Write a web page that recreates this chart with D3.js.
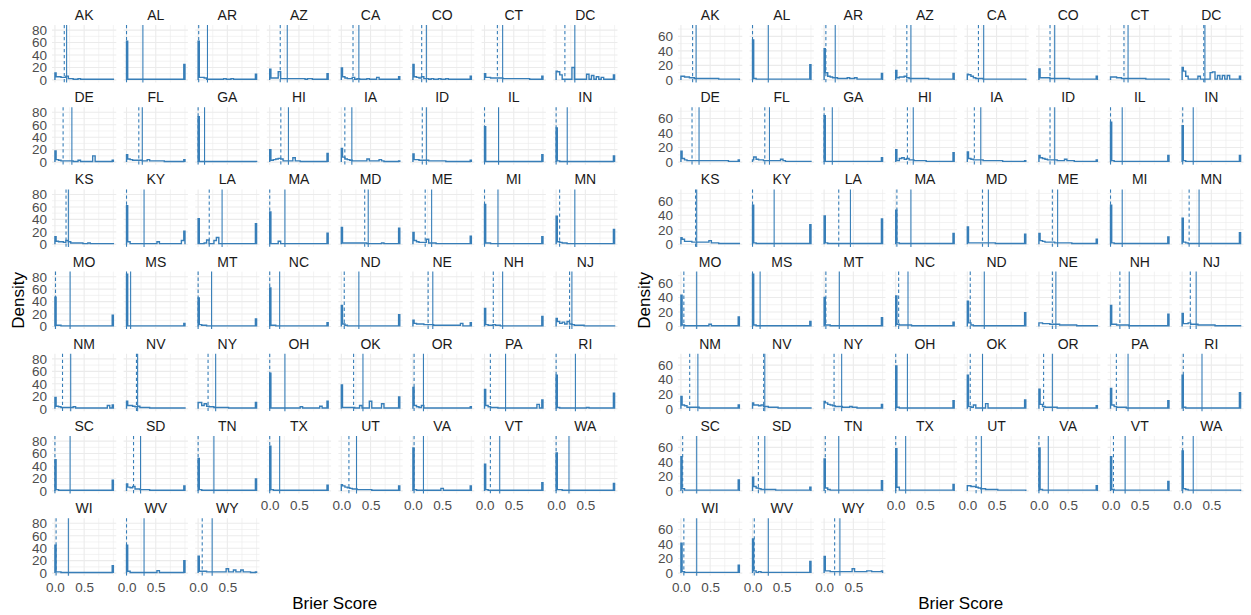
<!DOCTYPE html>
<html lang="en">
<head>
<meta charset="utf-8">
<script src="https://d3js.org/d3.v7.min.js"></script>
<style>
  body { margin: 0; background: #fff; }
  .tick text { fill: #4d4d4d; }
</style>
</head>
<body>
<script>
// States, in facet order
const states = ["AK","AL","AR","AZ","CA","CO","CT","DC","DE","FL","GA","HI","IA","ID","IL","IN",
  "KS","KY","LA","MA","MD","ME","MI","MN","MO","MS","MT","NC","ND","NE","NH","NJ",
  "NM","NV","NY","OH","OK","OR","PA","RI","SC","SD","TN","TX","UT","VA","VT","WA",
  "WI","WV","WY"];

// histogram bin edges: narrow first bin at 0, 24 bins up to 0.98, narrow last bin to 1.0
const binEdges = [0].concat(d3.range(24).map(k => 0.02 + k * 0.96 / 23), [1.0]);

// left chart: dashed and solid reference lines (Brier score)
const dashLeft = [0.16,0,0.01,0.18,0.20,0.15,0.22,0.15,0.14,0.21,0,0.19,0.06,0.16,0,0,
  0.19,0,0.19,0,0.40,0.21,0,0.06,0.01,0,0,0,0.05,0.26,0.15,0.23,
  0.13,0.17,0.17,0,0.21,0.02,0.10,0,0,0.12,0,0,0.13,0.02,0.10,0,
  0.02,0,0.07];
const solidLeft = [0.20,0.28,0.16,0.30,0.30,0.23,0.31,0.32,0.29,0.27,0.11,0.32,0.18,0.23,0.24,0.19,
  0.23,0.30,0.41,0.26,0.46,0.32,0.23,0.32,0.26,0.07,0.23,0.17,0.30,0.34,0.31,0.27,
  0.27,0.19,0.30,0.26,0.37,0.18,0.36,0.33,0.26,0.24,0.27,0.17,0.26,0.18,0.26,0.22,
  0.23,0.30,0.24];

// right chart: dashed and solid reference lines
const dashRight = [0.20,0,0.03,0.19,0.19,0.19,0.23,0.37,0.19,0.21,0,0.20,0.12,0.19,0,0.01,
  0.25,0,0.25,0.02,0.26,0.23,0,0.12,0.05,0,0.03,0.05,0.05,0.23,0.16,0.14,
  0.15,0.19,0.17,0,0.05,0.08,0.10,0.02,0.03,0.10,0.02,0,0.15,0,0.05,0.01,
  0.05,0.03,0.18];
const solidRight = [0.26,0.27,0.19,0.26,0.28,0.27,0.30,0.39,0.31,0.29,0.14,0.30,0.23,0.27,0.20,0.19,
  0.27,0.37,0.45,0.26,0.36,0.32,0.20,0.29,0.27,0.13,0.26,0.21,0.29,0.29,0.32,0.24,
  0.29,0.21,0.30,0.20,0.26,0.23,0.30,0.34,0.27,0.21,0.25,0.17,0.24,0.16,0.25,0.19,
  0.27,0.27,0.27];

// left chart densities per state (25 bins)
const densLeft = [
  [11,5,5,4,4,6,2,2,1,1,2,1,1,1,1,1,1,1,1,1,1,1,1,1,1],
  [62,1,1,1,1,1,1,1,1,1,1,1,1,1,1,1,1,1,1,1,1,1,1,1,25],
  [62,4,4,3,1,1,1,1,1,1,1,2,1,1,2,1,1,1,1,1,1,1,1,1,9],
  [17,3,3,3,13,2,2,2,2,2,2,2,2,2,2,1,2,2,1,1,1,1,1,1,10],
  [19,5,3,2,2,4,1,2,1,1,1,2,1,1,1,4,1,1,1,1,1,1,1,1,5],
  [25,5,4,3,5,2,2,1,2,1,1,2,1,1,2,1,1,1,1,1,1,1,1,1,6],
  [10,4,4,3,3,3,3,3,2,2,2,2,2,2,2,2,2,2,2,1,1,1,1,1,6],
  [14,13,8,1,1,1,1,20,1,1,1,1,1,9,1,7,1,5,1,4,1,1,1,1,8],
  [18,4,3,2,2,2,2,2,1,1,3,1,1,1,1,1,10,1,1,1,1,1,1,1,3],
  [12,5,4,3,3,3,3,2,2,4,2,2,2,2,2,2,1,1,1,1,1,1,1,1,4],
  [73,1,1,1,1,1,1,1,1,1,1,1,1,1,1,1,1,1,1,1,1,1,1,1,1],
  [20,3,4,5,6,5,2,2,2,2,7,2,2,1,1,1,1,1,1,1,1,1,1,1,14],
  [22,8,5,4,3,2,2,2,2,2,2,5,2,2,2,2,4,2,1,1,1,1,1,1,2],
  [13,4,4,3,3,3,3,2,2,2,2,2,2,2,1,1,1,1,1,1,1,1,1,1,3],
  [57,1,1,1,1,1,1,1,1,1,1,1,1,1,1,1,1,1,1,1,1,1,1,1,12],
  [55,2,1,1,1,1,1,1,1,1,1,1,1,1,1,1,1,1,1,1,1,1,1,1,10],
  [12,5,4,4,3,6,4,2,2,2,2,2,1,1,2,1,1,1,1,1,1,1,1,1,1],
  [62,4,1,1,1,1,1,1,1,1,1,1,1,4,1,1,1,1,1,1,1,1,1,6,21],
  [41,1,1,2,7,1,1,6,11,1,1,1,1,1,1,1,1,1,1,1,1,1,1,1,33],
  [52,1,1,1,5,1,1,1,1,1,1,1,1,1,1,1,1,1,1,1,1,1,1,1,18],
  [27,2,2,2,2,2,2,2,2,2,2,1,1,1,1,1,1,2,1,1,1,1,1,1,26],
  [19,6,4,3,3,3,8,2,2,2,1,1,1,1,1,1,1,1,1,1,1,1,1,1,13],
  [64,2,2,1,1,1,1,1,1,1,1,1,1,1,1,1,1,1,1,1,1,1,1,1,12],
  [45,4,3,2,2,1,1,1,1,1,1,1,1,1,1,1,1,1,1,1,1,1,1,1,24],
  [47,2,2,1,1,1,1,1,1,1,1,1,1,1,1,1,1,1,1,1,1,1,1,1,18],
  [84,1,1,1,1,1,1,1,1,1,1,1,1,1,1,1,1,1,1,1,1,1,1,1,5],
  [46,3,2,2,1,1,1,1,1,1,1,1,1,1,1,1,1,1,1,1,1,1,1,1,12],
  [62,2,2,1,1,1,1,1,1,1,1,1,1,1,1,1,1,1,1,1,1,1,1,1,6],
  [34,4,2,1,1,1,1,1,1,1,1,1,1,1,1,1,1,1,1,1,1,1,1,1,19],
  [10,5,4,4,4,3,3,3,3,2,2,2,2,2,2,2,2,2,2,2,5,1,1,1,6],
  [29,3,2,2,3,2,2,1,1,1,1,1,1,1,1,1,1,1,1,1,1,1,1,1,16],
  [13,8,5,7,4,8,4,3,2,2,2,2,1,1,1,1,1,1,1,1,1,1,1,1,1],
  [18,4,3,2,2,2,2,2,3,1,1,1,1,1,1,1,1,1,1,1,1,1,5,1,6],
  [12,5,5,4,3,4,2,2,2,2,1,1,1,1,1,1,1,1,1,1,1,1,1,1,1],
  [10,10,5,8,4,3,3,2,2,2,2,2,2,1,1,1,1,1,1,1,1,1,1,1,10],
  [57,1,1,1,1,1,1,1,1,1,1,1,1,3,1,1,1,1,1,1,1,4,1,1,12],
  [38,2,2,2,2,2,1,1,5,1,1,1,12,1,1,1,1,8,1,1,1,1,1,1,19],
  [34,5,3,2,5,1,1,1,1,1,1,1,1,1,1,1,1,1,1,1,1,1,1,1,3],
  [31,5,3,2,2,2,1,1,1,1,1,1,1,1,1,1,1,1,1,1,1,1,7,1,14],
  [54,2,1,1,1,1,1,1,1,1,1,1,1,2,1,1,1,1,1,1,1,1,1,1,25],
  [50,2,1,1,1,1,1,1,1,1,1,1,1,1,1,1,1,1,1,1,1,1,1,1,17],
  [11,6,5,7,3,3,2,2,2,2,1,1,1,1,1,1,1,1,1,1,1,1,1,1,8],
  [52,2,1,1,1,1,1,1,1,1,1,1,1,1,1,1,1,1,1,1,1,1,1,1,19],
  [72,2,1,1,1,1,1,1,1,1,1,1,1,1,1,1,1,1,1,1,1,1,1,1,9],
  [10,8,6,5,4,3,3,2,2,2,2,2,2,1,1,1,1,1,1,1,1,1,1,1,8],
  [69,2,1,1,1,1,1,1,1,1,1,1,4,1,1,1,1,1,1,1,1,1,1,1,8],
  [43,2,1,1,1,1,1,1,1,1,1,1,1,1,1,1,1,1,1,1,1,1,1,1,13],
  [61,2,2,1,1,1,1,1,1,1,1,1,1,1,1,1,1,1,1,1,1,1,1,1,12],
  [45,2,2,1,1,1,1,1,1,1,1,1,1,1,1,1,1,1,1,1,1,1,1,1,12],
  [45,3,1,1,1,1,1,1,1,1,1,1,1,4,1,1,1,1,1,1,1,1,1,1,20],
  [27,3,3,3,2,2,2,2,2,2,2,2,7,2,2,5,2,2,5,2,2,2,1,1,2]
];

// right chart densities per state (25 bins)
const densRight = [
  [5,5,4,4,3,3,2,2,2,2,2,2,2,2,2,2,1,1,1,1,1,1,1,1,1],
  [55,2,1,1,1,1,1,1,1,1,1,1,1,1,1,1,1,1,1,1,1,1,1,1,21],
  [43,10,5,4,3,3,2,2,2,2,3,2,2,3,1,1,1,1,1,1,1,1,1,1,9],
  [13,3,4,4,5,3,2,2,2,2,2,2,2,2,1,1,1,1,1,1,1,1,1,1,9],
  [8,7,5,3,2,2,2,1,1,1,1,1,1,1,1,1,1,1,1,1,1,1,1,1,1],
  [15,3,3,3,3,2,2,2,2,2,2,2,2,1,1,1,1,1,1,1,1,1,1,1,5],
  [4,4,4,3,3,2,2,2,2,2,2,2,2,2,2,1,1,1,1,1,1,1,1,1,1],
  [17,12,5,1,1,1,1,5,1,1,1,1,10,11,1,6,1,6,1,6,1,1,1,1,5],
  [15,5,3,2,2,2,2,2,2,2,2,2,2,2,2,2,2,2,2,2,1,1,1,1,3],
  [3,7,4,3,3,2,2,2,2,2,2,2,4,2,1,1,1,1,1,1,1,1,1,1,1],
  [64,1,1,1,1,1,1,1,1,1,1,1,1,1,1,1,1,1,1,1,1,1,1,1,6],
  [17,2,5,6,4,5,3,3,2,2,2,2,2,1,1,1,1,1,1,1,1,1,1,1,13],
  [14,5,4,3,3,3,3,2,2,2,2,2,2,2,2,1,1,1,1,1,1,1,1,1,2],
  [9,6,5,4,3,3,3,3,2,2,2,4,2,2,2,1,1,1,1,1,1,1,1,1,3],
  [55,2,1,1,1,1,1,1,1,1,1,1,1,1,1,1,1,1,1,1,1,1,1,1,9],
  [50,2,1,1,1,1,1,1,1,1,1,1,1,1,1,1,1,1,1,1,1,1,1,1,9],
  [9,7,4,4,4,3,3,3,3,3,3,3,5,2,2,2,1,1,1,1,1,1,1,1,1],
  [54,2,1,1,1,1,1,1,1,1,1,1,1,1,1,1,1,1,1,1,1,1,1,1,27],
  [39,2,1,1,1,1,1,1,1,1,1,1,1,1,1,1,1,1,1,1,1,1,1,1,35],
  [47,2,1,1,1,1,1,1,1,1,1,1,1,1,1,1,1,1,1,1,1,1,1,1,15],
  [24,2,2,2,2,2,2,2,2,2,2,2,1,1,1,1,1,1,1,1,1,1,1,1,14],
  [15,5,4,3,3,3,3,2,2,2,2,2,2,2,1,1,1,1,1,1,1,1,1,1,7],
  [54,2,1,1,1,1,1,1,1,1,1,1,1,1,1,1,1,1,1,1,1,1,1,1,10],
  [36,3,2,1,1,1,1,1,1,1,1,1,1,1,1,1,1,1,1,1,1,1,1,1,16],
  [43,2,1,1,1,1,1,1,1,1,1,1,3,1,1,1,1,1,1,1,1,1,1,1,13],
  [72,2,1,1,1,1,1,1,1,1,1,1,1,1,1,1,1,1,1,1,1,1,1,1,7],
  [40,2,2,1,1,1,1,1,1,1,1,1,1,1,1,1,1,1,1,1,1,1,1,1,12],
  [42,3,2,2,2,2,2,1,1,1,1,1,1,1,1,1,1,1,1,1,1,1,1,1,6],
  [35,5,2,1,1,1,1,1,1,1,1,1,1,1,1,1,1,1,1,1,1,1,1,1,19],
  [5,5,4,4,4,3,3,3,3,2,2,2,2,2,2,2,1,1,1,1,1,1,1,1,1],
  [29,3,3,2,2,2,2,2,1,1,1,1,1,1,1,1,1,1,1,1,1,1,1,1,17],
  [18,4,4,5,3,3,3,2,2,2,2,2,2,2,1,1,1,1,1,1,1,1,1,1,1],
  [17,5,4,2,2,2,2,2,1,1,1,1,1,1,1,1,1,1,1,1,1,1,1,1,5],
  [8,5,5,4,5,3,3,2,2,2,2,1,1,1,1,1,1,1,1,1,1,1,1,1,1],
  [10,8,6,5,4,3,3,3,2,2,2,3,2,2,1,1,1,1,1,1,1,1,1,1,6],
  [59,2,1,1,1,1,1,1,1,1,1,1,1,1,1,1,1,1,1,1,1,1,1,1,11],
  [46,3,2,5,1,1,1,1,7,1,1,1,1,1,1,1,1,1,1,1,1,1,1,1,12],
  [27,6,3,2,2,2,2,2,1,1,1,1,1,1,1,1,1,1,1,1,1,1,1,1,4],
  [28,5,3,2,2,2,2,1,1,1,1,1,1,1,1,1,1,1,1,1,1,1,1,1,11],
  [46,2,1,1,1,1,1,1,1,1,1,1,1,1,1,1,1,1,1,1,1,1,1,1,22],
  [47,3,1,1,1,1,1,1,1,1,1,1,1,1,1,1,1,1,1,1,1,1,1,1,15],
  [19,6,4,3,2,2,2,2,2,2,1,1,1,1,1,1,1,1,1,1,1,1,1,1,5],
  [44,4,2,1,1,1,1,1,1,1,1,1,1,1,1,1,1,1,1,1,1,1,1,1,14],
  [58,5,1,1,1,1,1,1,1,1,1,1,1,1,1,1,1,1,1,1,1,1,1,1,9],
  [7,7,6,6,5,4,3,3,2,2,2,2,2,1,1,1,1,1,1,1,1,1,1,1,1],
  [59,2,1,1,1,1,1,1,1,1,1,1,1,1,1,1,1,1,1,1,1,1,1,1,7],
  [47,2,1,1,1,1,1,1,1,1,1,1,1,1,1,1,1,1,1,1,1,1,1,1,13],
  [55,3,2,1,1,1,1,1,1,1,1,1,1,1,1,1,1,1,1,1,1,1,1,1,1],
  [41,2,1,1,1,1,1,1,1,1,1,1,1,1,1,1,1,1,1,1,1,1,1,1,11],
  [47,3,1,2,1,1,1,1,1,1,1,1,1,1,1,1,1,1,1,1,1,1,1,1,16],
  [23,3,3,2,2,2,2,2,2,2,2,2,6,2,2,2,2,2,3,3,2,2,2,2,3]
];

// axis ticks
const xTicks = [0, 0.5];
const xMinor = [0.25, 0.75, 1.0];
const yTicksLeft = [0, 20, 40, 60, 80];
const yTicksRight = [0, 20, 40, 60];
const yMinor = [10, 30, 50, 70];

// the two charts side by side
const charts = [
  { offset: 0,   ymax: 84, yTicks: yTicksLeft,  dens: densLeft,  dash: dashLeft,  solid: solidLeft },
  { offset: 626, ymax: 72, yTicks: yTicksRight, dens: densRight, dash: dashRight, solid: solidRight }
];

const lineColor = "#377eb8";
const gridColor = "#ebebeb";

// facet layout
const nCol = 8;
const panelW = 64.3, panelH = 57.5;
const colStep = 71.6, rowStep = 82.2;
const left0 = 52, top0 = 25;
const nRow = Math.ceil(states.length / nCol);

const svg = d3.select("body").append("svg")
  .attr("width", 1251)
  .attr("height", 615)
  .style("font-family", "'Liberation Sans', Arial, Helvetica, sans-serif");

const x = d3.scaleLinear().domain([-0.05, 1.05]).range([0, panelW]);

charts.forEach(chart => {
  const g = svg.append("g").attr("transform", `translate(${chart.offset},0)`);
  const y = d3.scaleLinear()
    .domain([-0.05 * chart.ymax, 1.05 * chart.ymax])
    .range([panelH, 0]);

  const line = d3.line()
    .x(d => x(d[0]))
    .y(d => y(d[1]))
    .curve(d3.curveStepAfter);

  states.forEach((st, i) => {
    const col = i % nCol, row = Math.floor(i / nCol);
    const p = g.append("g")
      .attr("transform", `translate(${left0 + col * colStep},${top0 + row * rowStep})`);

    // minor grid
    p.selectAll(".xminor").data(xMinor).join("line")
      .attr("x1", d => x(d)).attr("x2", d => x(d))
      .attr("y1", 0).attr("y2", panelH)
      .attr("stroke", gridColor).attr("stroke-width", 0.6);
    p.selectAll(".yminor").data(yMinor.filter(v => v < 1.05 * chart.ymax)).join("line")
      .attr("x1", 0).attr("x2", panelW)
      .attr("y1", d => y(d)).attr("y2", d => y(d))
      .attr("stroke", gridColor).attr("stroke-width", 0.6);

    // major grid
    p.selectAll(".xmajor").data(xTicks).join("line")
      .attr("x1", d => x(d)).attr("x2", d => x(d))
      .attr("y1", 0).attr("y2", panelH)
      .attr("stroke", gridColor).attr("stroke-width", 1.1);
    p.selectAll(".ymajor").data(chart.yTicks).join("line")
      .attr("x1", 0).attr("x2", panelW)
      .attr("y1", d => y(d)).attr("y2", d => y(d))
      .attr("stroke", gridColor).attr("stroke-width", 1.1);

    // histogram outline
    const bins = chart.dens[i];
    const pts = [[0, 0]];
    bins.forEach((h, k) => pts.push([binEdges[k], h]));
    pts.push([binEdges[bins.length], bins[bins.length - 1]]);
    pts.push([binEdges[bins.length], 0]);
    p.append("path")
      .attr("d", line(pts))
      .attr("fill", "none")
      .attr("stroke", lineColor)
      .attr("stroke-width", 1.4);

    // dashed and solid vertical lines
    p.append("line")
      .attr("x1", x(chart.dash[i])).attr("x2", x(chart.dash[i]))
      .attr("y1", 0).attr("y2", panelH)
      .attr("stroke", lineColor).attr("stroke-width", 1.1)
      .attr("stroke-dasharray", "3.3,2.7");
    p.append("line")
      .attr("x1", x(chart.solid[i])).attr("x2", x(chart.solid[i]))
      .attr("y1", 0).attr("y2", panelH)
      .attr("stroke", lineColor).attr("stroke-width", 1.1);

    // strip label
    p.append("text")
      .attr("x", panelW / 2).attr("y", -5)
      .attr("text-anchor", "middle")
      .attr("font-size", 14)
      .attr("fill", "#1a1a1a")
      .text(st);

    // y axis on first column
    if (col === 0) {
      const ya = p.append("g")
        .call(d3.axisLeft(y).tickValues(chart.yTicks).tickSize(0).tickPadding(5));
      ya.select(".domain").remove();
      ya.selectAll("text").attr("font-size", 13.5).style("font-family", "inherit");
    }

    // x axis on bottom facet of each column
    if (i + nCol >= states.length) {
      const xa = p.append("g")
        .attr("transform", `translate(0,${panelH})`)
        .call(d3.axisBottom(x).tickValues(xTicks).tickFormat(d3.format(".1f")).tickSize(0).tickPadding(7));
      xa.select(".domain").remove();
      xa.selectAll("text").attr("font-size", 13.5).style("font-family", "inherit");
    }
  });

  // axis titles
  const plotBottom = top0 + (nRow - 1) * rowStep + panelH;
  const plotMidX = left0 + ((nCol - 1) * colStep + panelW) / 2;
  g.append("text")
    .attr("x", plotMidX).attr("y", 609)
    .attr("text-anchor", "middle")
    .attr("font-size", 17)
    .attr("fill", "#000")
    .text("Brier Score");
  g.append("text")
    .attr("transform", `translate(24,${(top0 + plotBottom) / 2}) rotate(-90)`)
    .attr("text-anchor", "middle")
    .attr("font-size", 17)
    .attr("fill", "#000")
    .text("Density");
});
</script>
</body>
</html>
